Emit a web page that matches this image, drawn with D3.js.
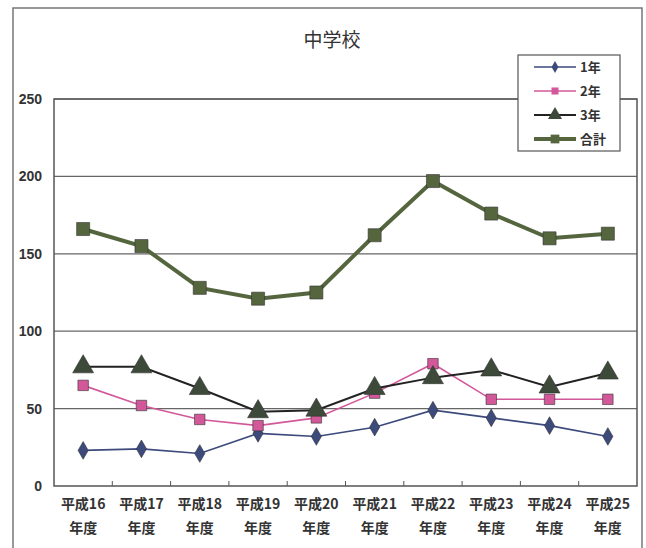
<!DOCTYPE html>
<html>
<head>
<meta charset="utf-8">
<script src="https://cdn.jsdelivr.net/npm/d3@7"></script>
<style>
    body { margin: 0; background: #fff; }
    text { font-family: "Noto Sans CJK JP", "Liberation Sans", sans-serif; fill: #333; }
</style>
</head>
<body>
<script>
var years = ['平成16', '平成17', '平成18', '平成19', '平成20', '平成21', '平成22', '平成23', '平成24', '平成25'];
var grade1 = [23, 24, 21, 34, 32, 38, 49, 44, 39, 32];
var grade2 = [65, 52, 43, 39, 44, 60, 79, 56, 56, 56];
var grade3 = [77, 77, 63, 48, 49, 63, 70, 75, 64, 73];
var total = [166, 155, 128, 121, 125, 162, 197, 176, 160, 163];
var yTicks = [0, 50, 100, 150, 200, 250];
var seriesNames = ['1年', '2年', '3年', '合計'];

var w = 646,
    h = 548;
var plot = {left: 54, right: 637, top: 99, bottom: 486};

var svg = d3.select('body')
    .append('svg')
    .attr('width', w)
    .attr('height', h);

// outer frame of the chart
svg.append('rect')
    .attr('x', 13).attr('y', 8)
    .attr('width', 629).attr('height', 560)
    .attr('fill', 'none')
    .attr('stroke', '#777')
    .attr('stroke-width', 1.5);

svg.append('text')
    .attr('x', 332).attr('y', 47)
    .attr('text-anchor', 'middle')
    .style('font-size', '19px')
    .text('中学校');

var x = d3.scaleBand().domain(years).range([plot.left, plot.right]);
var y = d3.scaleLinear().domain([0, 250]).range([plot.bottom, plot.top]);

// grid lines
svg.append('g')
    .selectAll('line')
    .data(yTicks.filter(function(d) { return d > 0; }))
    .enter()
    .append('line')
    .attr('x1', plot.left).attr('x2', plot.right)
    .attr('y1', y).attr('y2', y)
    .attr('stroke', '#666')
    .attr('stroke-width', 1.2);

svg.append('rect')
    .attr('x', plot.left).attr('y', plot.top)
    .attr('width', plot.right - plot.left)
    .attr('height', plot.bottom - plot.top)
    .attr('fill', 'none')
    .attr('stroke', '#555')
    .attr('stroke-width', 1.5);

// y axis labels
var yAxis = svg.append('g')
    .attr('transform', 'translate(' + plot.left + ',0)')
    .call(d3.axisLeft(y).tickValues(yTicks).tickSize(0).tickPadding(12));
yAxis.select('.domain').remove();
yAxis.selectAll('text')
    .style('font-size', '14px')
    .style('font-family', '"Liberation Sans", sans-serif')
    .style('font-weight', 'bold')
    .attr('fill', '#333');

// x axis with ticks between categories
var xAxis = svg.append('g')
    .attr('transform', 'translate(0,' + plot.bottom + ')');
xAxis.selectAll('line')
    .data(years.slice(1))
    .enter()
    .append('line')
    .attr('x1', function(d) { return x(d); })
    .attr('x2', function(d) { return x(d); })
    .attr('y1', 0).attr('y2', -5)
    .attr('stroke', '#555');
var lbl = xAxis.selectAll('text')
    .data(years)
    .enter()
    .append('text')
    .attr('x', function(d) { return x(d) + x.bandwidth() / 2; })
    .attr('text-anchor', 'middle')
    .style('font-size', '14px')
    .style('font-weight', 'bold');
lbl.append('tspan').attr('x', function(d) { return x(d) + x.bandwidth() / 2; }).attr('y', 23).text(function(d) { return d; });
lbl.append('tspan').attr('x', function(d) { return x(d) + x.bandwidth() / 2; }).attr('y', 47).text('年度');

var cx = function(d, i) { return x(years[i]) + x.bandwidth() / 2; };
var line = d3.line().x(cx).y(function(d) { return y(d); });

var styles = [
    {data: grade1, color: '#3c4a7c', width: 1.6, marker: d3.symbolDiamond, size: 90, fill: '#3c4a7c'},
    {data: grade2, color: '#d2589a', width: 1.6, marker: d3.symbolSquare, size: 110, fill: '#d2589a'},
    {data: grade3, color: '#222', width: 2, marker: d3.symbolTriangle, size: 190, fill: '#3d4a3a'},
    {data: total, color: '#55663f', width: 4, marker: d3.symbolSquare, size: 170, fill: '#55663f'}
];

styles.forEach(function(s) {
    var g = svg.append('g');
    g.append('path')
        .attr('d', line(s.data))
        .attr('fill', 'none')
        .attr('stroke', s.color)
        .attr('stroke-width', s.width);
    g.selectAll('path.pt')
        .data(s.data)
        .enter()
        .append('path')
        .attr('class', 'pt')
        .attr('transform', function(d, i) { return 'translate(' + cx(d, i) + ',' + y(d) + ')'; })
        .attr('d', d3.symbol().type(s.marker).size(s.size))
        .attr('fill', s.fill)
        .attr('stroke', '#333')
        .attr('stroke-width', 0.6);
});

// legend
var legend = svg.append('g');
legend.append('rect')
    .attr('x', 518).attr('y', 55)
    .attr('width', 102).attr('height', 96)
    .attr('fill', '#fff')
    .attr('stroke', '#555')
    .attr('stroke-width', 1.2);
styles.forEach(function(s, i) {
    var ly = 67 + i * 24;
    legend.append('line')
        .attr('x1', 534).attr('x2', 576)
        .attr('y1', ly).attr('y2', ly)
        .attr('stroke', s.color)
        .attr('stroke-width', s.width);
    legend.append('path')
        .attr('transform', 'translate(555,' + ly + ')')
        .attr('d', d3.symbol().type(s.marker).size(s.size * 0.45))
        .attr('fill', s.fill);
    legend.append('text')
        .attr('x', 580).attr('y', ly + 5)
        .style('font-size', '13px')
        .style('font-weight', 'bold')
        .text(seriesNames[i]);
});
</script>
</body>
</html>
